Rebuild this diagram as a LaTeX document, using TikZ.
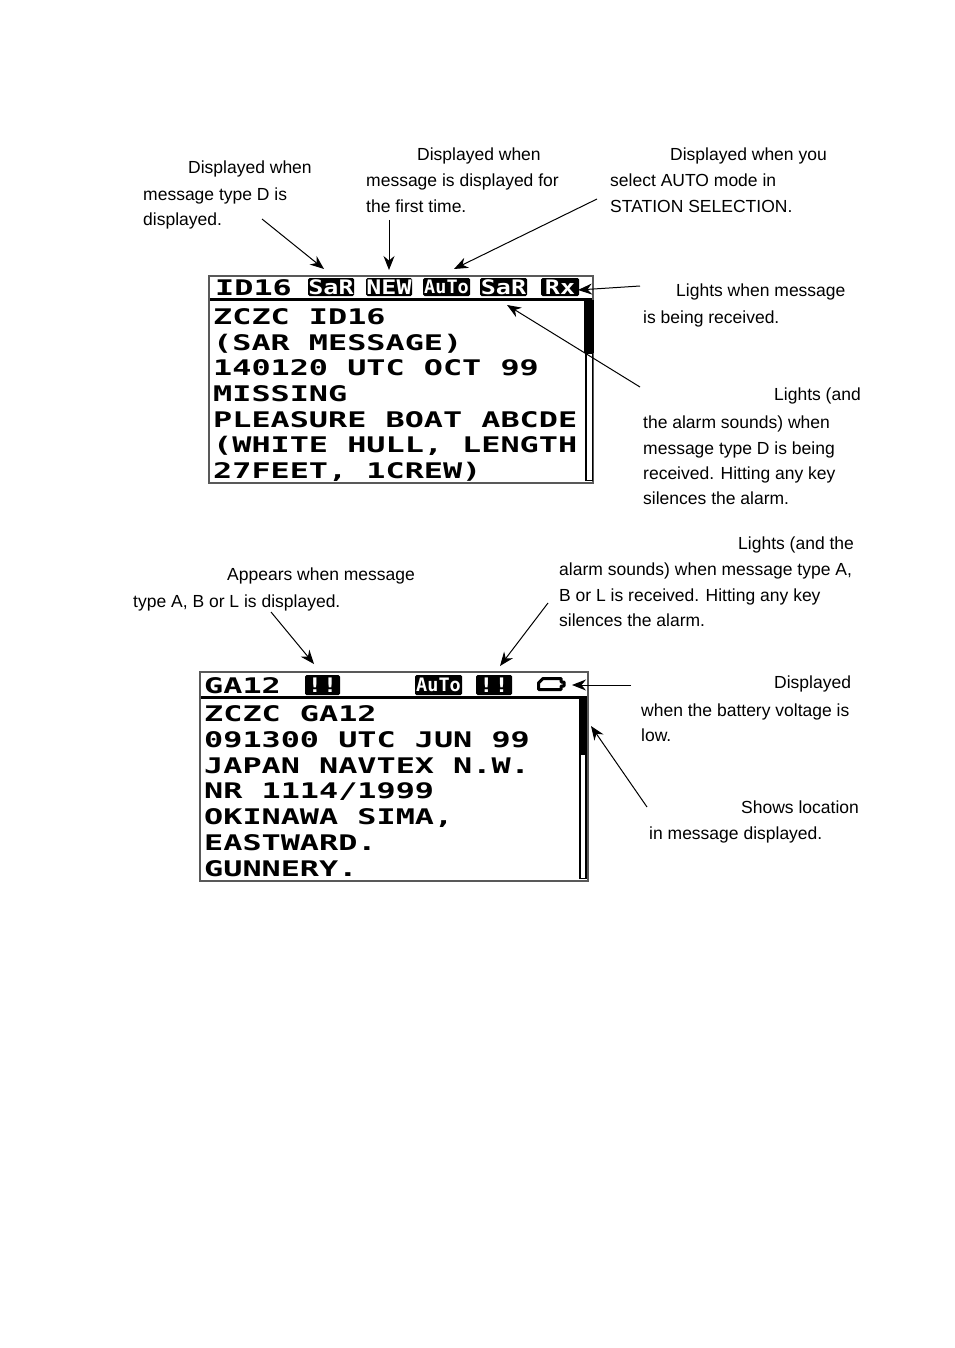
\documentclass[tikz,border=0pt]{standalone}
\usepackage{fontspec}
\setmainfont{Liberation Sans}
\usetikzlibrary{arrows.meta}
\newfontfamily\lcdmain[FakeStretch=1.48]{DejaVu Sans Mono Bold}
\newfontfamily\lcdbadge[FakeStretch=1.25]{DejaVu Sans Mono Bold}
\newfontfamily\lcdsmall[FakeStretch=1.0]{DejaVu Sans Mono Bold}
\newcommand{\fl}{\rule{0pt}{13pt}}
\tikzset{
  note/.style={anchor=north west,inner sep=0pt,align=left,font=\fontsize{17.5}{26}\selectfont},
  lcdline/.style={anchor=base west,inner sep=0pt,font=\lcdmain\fontsize{21.5}{22}\selectfont},
  badge/.style={fill=black,text=white,inner sep=0pt,rounded corners=1.5pt,font=\lcdbadge\fontsize{20}{20}\selectfont},
  smallbadge/.style={badge,font=\lcdsmall\fontsize{18.5}{20}\selectfont},
  frame/.style={draw=black!65,line width=1.7pt,outer sep=0pt},
  rulebar/.style={fill=black,draw=none},
  pointer/.style={-{Stealth[length=14pt,width=11pt]},line width=1pt,black}
}
\begin{document}
\begin{tikzpicture}[x=1pt,y=-1pt]
\useasboundingbox (0,0) rectangle (954,1348);
\fill[white] (0,0) rectangle (954,1348);

% ---- upper screen
\node[frame,minimum width=384pt,minimum height=207pt,inner sep=0pt,anchor=north west] (screenA) at (209,276) {};
\fill[rulebar] (210,298) rectangle (592,301);
\fill[rulebar] (584,300) rectangle (594,353);
\draw[line width=1.6pt] (586,353) rectangle (592.5,480.5);
\node[lcdline] (a0) at (215,295) {ID16};
\node[badge,minimum width=46pt,minimum height=18pt] (sar1) at (331,287) {SaR};
\node[badge,minimum width=46pt,minimum height=18pt] (new) at (389,287) {NEW};
\node[smallbadge,minimum width=47pt,minimum height=18pt] (auto1) at (446.5,287) {AuTo};
\node[badge,minimum width=47pt,minimum height=18pt] (sar2) at (503.5,287) {SaR};
\node[badge,minimum width=38pt,minimum height=18pt] (rx) at (560,287) {Rx};
\node[lcdline] (a1) at (213,324) {ZCZC ID16};
\node[lcdline] (a2) at (213,350) {(SAR MESSAGE)};
\node[lcdline] (a3) at (213,375) {140120 UTC OCT 99};
\node[lcdline] (a4) at (213,401) {MISSING};
\node[lcdline] (a5) at (213,427) {PLEASURE BOAT ABCDE};
\node[lcdline] (a6) at (213,452) {(WHITE HULL, LENGTH};
\node[lcdline] (a7) at (213,478) {27FEET, 1CREW)};

% ---- lower screen
\node[frame,minimum width=388pt,minimum height=209pt,inner sep=0pt,anchor=north west] (screenB) at (200,672) {};
\fill[rulebar] (201,696) rectangle (587,699);
\fill[rulebar] (579,698) rectangle (587,754);
\draw[line width=1.6pt] (580,754) rectangle (586,878.5);
\node[lcdline] (b0) at (204,693) {GA12};
\node[badge,minimum width=35pt,minimum height=20pt] (ex1) at (322.5,685) {!!};
\node[smallbadge,minimum width=47pt,minimum height=20pt] (auto2) at (438.5,685) {AuTo};
\node[badge,minimum width=36pt,minimum height=20pt] (ex2) at (494,685) {!!};
\draw[line width=3pt,line join=round] (543,678.5) -- (561,678.5) -- (561,682) -- (564,682) -- (564,686) -- (561,686) -- (561,689.5) -- (538.5,689.5) -- (538.5,683) -- cycle;
\node[lcdline] (b1) at (204,721) {ZCZC GA12};
\node[lcdline] (b2) at (204,747) {091300 UTC JUN 99};
\node[lcdline] (b3) at (204,773) {JAPAN NAVTEX N.W.};
\node[lcdline] (b4) at (204,798) {NR 1114/1999};
\node[lcdline] (b5) at (204,824) {OKINAWA SIMA,};
\node[lcdline] (b6) at (204,850) {EASTWARD.};
\node[lcdline] (b7) at (204,876) {GUNNERY.};

% ---- notes
\node[note] (n1) at (143,160) {\fl\hspace*{45pt}Displayed when\\[1pt] message type D is\\[-1pt] displayed.};
\node[note] (n2) at (366,147) {\fl\hspace*{51pt}Displayed when\\ message is displayed for\\ the first time.};
\node[note] (n3) at (610,147) {\fl\hspace*{60pt}Displayed when you\\ select AUTO mode in\\ STATION SELECTION.};
\node[note] (n4) at (643,283) {\fl\hspace*{33pt}Lights when message\\[1pt] is being received.};
\node[note] (n5) at (643,387) {\fl\hspace*{131pt}Lights (and\\[2pt] the alarm sounds) when\\ message type D is being\\[-1pt] received. Hitting any key\\[-1pt] silences the alarm.};
\node[note] (n6) at (133,567) {\fl\hspace*{94pt}Appears when message\\[1pt] type A, B or L is displayed.};
\node[note] (n7) at (559,536) {\fl\hspace*{179pt}Lights (and the\\ alarm sounds) when message type A,\\ B or L is received. Hitting any key\\[-1pt] silences the alarm.};
\node[note] (n8) at (641,675) {\fl\hspace*{133pt}Displayed\\[2pt] when the battery voltage is\\[-1pt] low.};
\node[note] (n9) at (649,800) {\fl\hspace*{92pt}Shows location\\ in message displayed.};

% ---- connector ends
\coordinate (s1) at (262,219); \coordinate (t1) at (324,269);
\coordinate (s2) at (389,220); \coordinate (t2) at (389,270);
\coordinate (s3) at (597,199); \coordinate (t3) at (454,269);
\coordinate (s4) at (640,286); \coordinate (t4) at (578,290);
\coordinate (s5) at (640,387); \coordinate (t5) at (507,305);
\coordinate (s6) at (271,612); \coordinate (t6) at (314,664);
\coordinate (s7) at (548,603); \coordinate (t7) at (500,666);
\coordinate (s8) at (631,685); \coordinate (t8) at (572,685);
\coordinate (s9) at (647,807); \coordinate (t9) at (591,726);
\draw[pointer] (s1) -- (t1);
\draw[pointer] (s2) -- (t2);
\draw[pointer] (s3) -- (t3);
\draw[pointer] (s4) -- (t4);
\draw[pointer] (s5) -- (t5);
\draw[pointer] (s6) -- (t6);
\draw[pointer] (s7) -- (t7);
\draw[pointer] (s8) -- (t8);
\draw[pointer] (s9) -- (t9);
\end{tikzpicture}
\end{document}
